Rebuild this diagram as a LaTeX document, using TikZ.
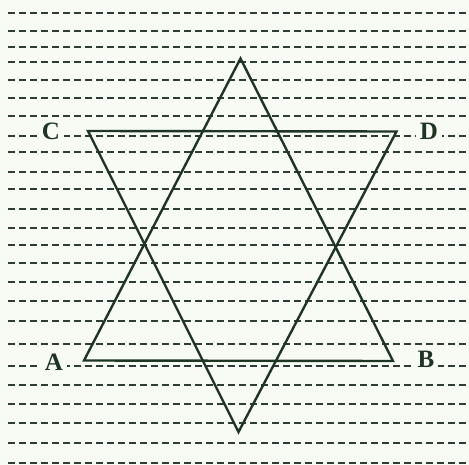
\documentclass[tikz,border=0pt]{standalone}
\usepackage{fontspec}
\setmainfont{Liberation Serif}
\begin{document}
\begin{tikzpicture}[x=1pt,y=-1pt,
  ruling/.style={draw=rulecol,line width=2pt,dash pattern=on 6.5pt off 4.5pt},
  starline/.style={draw=starcol,line width=2.4pt,line join=miter},
  lbl/.style={text=starcol,fill=paper,font=\fontsize{25}{25}\selectfont\bfseries,inner sep=4pt}]
\definecolor{rulecol}{HTML}{2E3D33}
\definecolor{starcol}{HTML}{1E3524}
\definecolor{paper}{HTML}{F8FBF4}
\fill[paper] (0,0) rectangle (469,465);
\useasboundingbox (0,0) rectangle (469,465);
\foreach \yy in {13,31,47,62,80,98,116,136,152,172,189,209,228,245,263,282,301,321,344,366,385,404,423,443,463}
  \draw[ruling] (8,\yy) -- (469,\yy);
\coordinate (A) at (84,360.5);
\coordinate (B) at (393,361);
\coordinate (T) at (240.5,58.5);
\coordinate (C) at (88,131);
\coordinate (D) at (396.5,131.5);
\coordinate (S) at (238.5,432);
\draw[starline] (A) -- (B) -- (T) -- cycle;
\draw[starline] (C) -- (D) -- (S) -- cycle;
\node[lbl] (la) at (54,362) {A};
\node[lbl] (lb) at (426,359) {B};
\node[lbl] (lc) at (51,131) {C};
\node[lbl] (ld) at (429,131) {D};
\end{tikzpicture}
\end{document}
